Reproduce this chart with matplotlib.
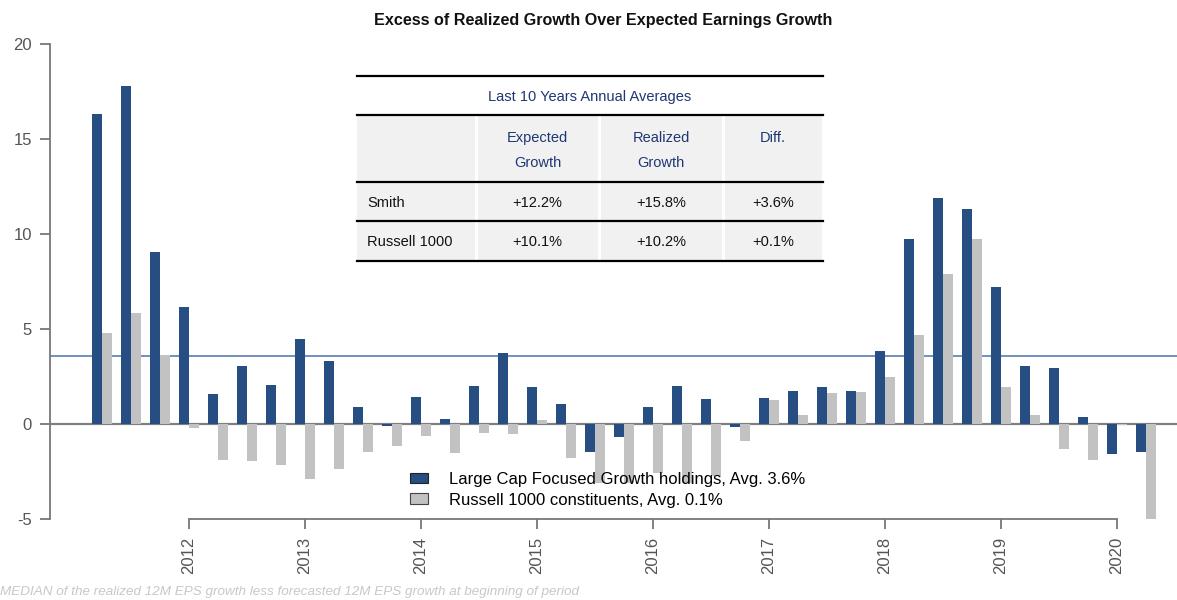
import numpy as np
import matplotlib
matplotlib.use('Agg')
import matplotlib.pyplot as plt
from matplotlib.patches import Rectangle
from matplotlib.lines import Line2D

plt.rcParams['font.family'] = ['Liberation Sans', 'DejaVu Sans']
plt.rcParams['axes.unicode_minus'] = False

# quarters 2011Q1 .. 2020Q1, plotted at the quarter end (2011Q1 -> 2011.25)
quarters = ['%dQ%d' % (y, q) for y in range(2011, 2021) for q in range(1, 5)][:37]

focused = [16.3, 17.8, 9.05, 6.15, 1.6, 3.05, 2.05, 4.5, 3.3, 0.9, -0.1,
           1.4, 0.25, 2.0, 3.75, 1.95, 1.05, -1.45, -0.7, 0.9, 2.0, 1.3, -0.15,
           1.35, 1.75, 1.95, 1.75, 3.85, 9.75, 11.9, 11.3, 7.2, 3.05, 2.95, 0.35,
           -1.6, -1.45]
russell = [4.8, 5.85, 3.65, -0.2, -1.9, -1.95, -2.15, -2.9, -2.35, -1.45, -1.15,
           -0.65, -1.55, -0.45, -0.5, 0.2, -1.8, -3.1, -3.1, -2.6, -3.1, -2.75, -0.9,
           1.25, 0.45, 1.65, 1.7, 2.45, 4.7, 7.9, 9.75, 1.95, 0.45, -1.3, -1.9,
           -0.05, -5.0]
focused_avg = 3.6
russell_avg = 0.1

legend_labels = ['Large Cap Focused Growth holdings, Avg. 3.6%',
                 'Russell 1000 constituents, Avg. 0.1%']
years = list(range(2012, 2021))

table_title = 'Last 10 Years Annual Averages'
table_cols = ['Expected\nGrowth', 'Realized\nGrowth', 'Diff.']
table_rows = ['Smith', 'Russell 1000']
table_vals = [['+12.2%', '+15.8%', '+3.6%'],
              ['+10.1%', '+10.2%', '+0.1%']]

title = 'Excess of Realized Growth Over Expected Earnings Growth'
footnote = 'MEDIAN of the realized 12M EPS growth less forecasted 12M EPS growth at beginning of period'

BLUE = '#264e82'
GRAY = '#c2c2c2'
NAVY = '#1e3773'
W, H = 1177, 600


def fx(px):
    return px / W


def fy(py):
    return 1 - py / H


def quarter_pos(q):
    y, n = q.split('Q')
    return int(y) + int(n) * 0.25


fig = plt.figure(figsize=(W / 100, H / 100), dpi=100, facecolor='w')
ax = fig.add_axes([fx(50), fy(519), fx(1127), 475 / H])

x = np.array([quarter_pos(q) for q in quarters])
bw = 0.082
ax.bar(x - bw / 2, focused, width=bw, color=BLUE, zorder=3, label=legend_labels[0])
ax.bar(x + bw / 2, russell, width=bw, color=GRAY, zorder=3, label=legend_labels[1])

ax.axhline(0, color='#808080', lw=1.6, zorder=2)
ax.axhline(focused_avg, color='#4a72b3', lw=1.1, zorder=2)

ax.set_xlim(2012 - 139 / 116, 2012 + 988 / 116)
ax.set_ylim(-5, 20)

for s in ['top', 'right']:
    ax.spines[s].set_visible(False)
ax.spines['left'].set_color('#777777')
ax.spines['bottom'].set_color('#777777')
ax.spines['left'].set_linewidth(1.3)
ax.spines['bottom'].set_linewidth(1.3)
ax.spines['bottom'].set_bounds(years[0], years[-1])

ax.set_yticks([-5, 0, 5, 10, 15, 20])
ax.set_xticks(years)
ax.set_xticklabels([str(y) for y in years], rotation=90)
ax.tick_params(axis='both', colors='#777777', labelcolor='#555555',
               labelsize=12, length=7, width=1.3, direction='out', pad=6)

# legend
handles = [Rectangle((0, 0), 1, 1, facecolor=BLUE, edgecolor='#222222', lw=0.8),
           Rectangle((0, 0), 1, 1, facecolor=GRAY, edgecolor='#444444', lw=0.8)]
fig.legend(handles, legend_labels, loc='upper left',
           bbox_to_anchor=(fx(410), fy(472)), frameon=False, fontsize=12,
           handlelength=1.08, handleheight=0.6, handletextpad=1.26,
           labelspacing=0.33, borderpad=0, borderaxespad=0)

# title and footnote
fig.text(fx(603), fy(20), title, ha='center', va='center',
         fontsize=11.6, fontweight='bold', color='#111111')
fig.text(fx(0), fy(592), footnote, ha='left', va='center',
         fontsize=9.7, style='italic', color='#c8c8c8')

# summary table drawn in figure pixels
tl, tr = 357, 823
col_edges = [357, 476, 599, 723, 823]
bg = '#f1f1f1'
row_bands = [(115, 182), (182, 221), (221, 261)]
for (y0, y1) in row_bands:
    for i in range(4):
        x0 = col_edges[i] + (1.5 if i > 0 else 0)
        x1 = col_edges[i + 1] - 1.5
        fig.patches.append(Rectangle((fx(x0), fy(y1)), fx(x1 - x0), (y1 - y0) / H,
                                     transform=fig.transFigure, facecolor=bg,
                                     edgecolor='none', zorder=5))
for yl in [76, 115, 182, 221, 261]:
    fig.lines.append(Line2D([fx(tl), fx(tr)], [fy(yl), fy(yl)],
                            transform=fig.transFigure, color='black', lw=1.6, zorder=6))

fig.text(fx(590), fy(97), table_title, ha='center', va='center',
         fontsize=10.5, color=NAVY, zorder=7)
col_centers = [(col_edges[i + 1] + col_edges[i + 2]) / 2 for i in range(3)]
for cx, lab in zip(col_centers, table_cols):
    for k, line in enumerate(lab.split('\n')):
        fig.text(fx(cx), fy(138 + 25 * k), line, ha='center', va='center',
                 fontsize=10.5, color=NAVY, zorder=7)
row_centers = [203, 242]
for ry, rlab, vals in zip(row_centers, table_rows, table_vals):
    fig.text(fx(367), fy(ry), rlab, ha='left', va='center', fontsize=10.5,
             color='#111111', zorder=7)
    for cx, v in zip(col_centers, vals):
        fig.text(fx(cx), fy(ry), v, ha='center', va='center', fontsize=10.5,
                 color='#111111', zorder=7)

fig.savefig('out.png', dpi=100)
